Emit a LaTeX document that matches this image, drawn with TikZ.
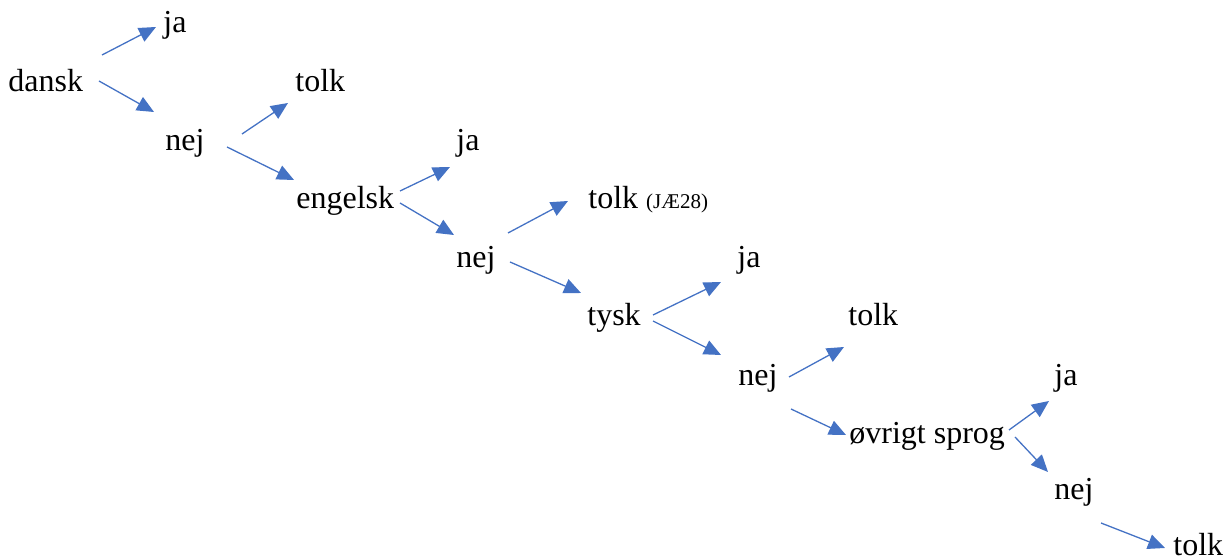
\documentclass[tikz,border=0pt]{standalone}
\usepackage{fontspec}
\setmainfont{Liberation Serif}
\usepackage{xcolor}
\usetikzlibrary{arrows.meta}
\definecolor{officeblue}{HTML}{4472C4}

\begin{document}
\begin{tikzpicture}[x=0.5pt,y=-0.5pt,
		word/.style={
			anchor=base west,
			inner sep=0pt,
			font=\fontsize{16}{19}\selectfont,
		},
		branch/.style={
			draw=officeblue,
			line width=0.65pt,
			-{Triangle[length=8.5pt,width=7.5pt]},
		}]
		\useasboundingbox (0,0) rectangle (1223,560);
		
		\node[word] (dansk) at (8,92) {dansk};
		\node[word] (ja1) at (163,33) {ja};
		\node[word] (nej1) at (165,151) {nej};
		\node[word] (tolk1) at (295,92) {tolk};
		\node[word] (engelsk) at (296,209) {engelsk};
		\node[word] (ja2) at (456,151) {ja};
		\node[word] (nej2) at (456,268) {nej};
		\node[word] (tolk2) at (588,209) {tolk {\fontsize{10.5}{12}\selectfont (JÆ28)}};
		\node[word] (tysk) at (587,326) {tysk};
		\node[word] (ja3) at (737,268) {ja};
		\node[word] (nej3) at (738,386) {nej};
		\node[word] (tolk3) at (848,326) {tolk};
		\node[word] (oevrigt) at (849,444) {øvrigt sprog};
		\node[word] (ja4) at (1054,386) {ja};
		\node[word] (nej4) at (1054,500) {nej};
		\node[word] (tolk4) at (1173,556) {tolk};
		
		% dansk
		\draw[branch] ([shift={(94,-37)}]dansk.base west) -- ([shift={(-7,-6)}]ja1.base west);
		\draw[branch] ([shift={(91,-11)}]dansk.base west) -- ([shift={(-11,-39)}]nej1.base west);
		% engelsk
		\draw[branch] ([shift={(77,-17)}]nej1.base west) -- ([shift={(-7,11)}]tolk1.base west);
		\draw[branch] ([shift={(62,-4)}]nej1.base west) -- ([shift={(-2,-29)}]engelsk.base west);
		\draw[branch] ([shift={(104,-18)}]engelsk.base west) -- ([shift={(-6,16)}]ja2.base west);
		\draw[branch] ([shift={(104,-6)}]engelsk.base west) -- ([shift={(-2,-33)}]nej2.base west);
		% tysk
		\draw[branch] ([shift={(52,-35)}]nej2.base west) -- ([shift={(-20,-8)}]tolk2.base west);
		\draw[branch] ([shift={(54,-6)}]nej2.base west) -- ([shift={(-6,-33)}]tysk.base west);
		\draw[branch] ([shift={(66,-11)}]tysk.base west) -- ([shift={(-16,14)}]ja3.base west);
		\draw[branch] ([shift={(66,-5)}]tysk.base west) -- ([shift={(-17,-31)}]nej3.base west);
		% oevrigt sprog
		\draw[branch] ([shift={(51,-9)}]nej3.base west) -- ([shift={(-4,21)}]tolk3.base west);
		\draw[branch] ([shift={(53,23)}]nej3.base west) -- ([shift={(-3,-9)}]oevrigt.base west);
		\draw[branch] ([shift={(160,-14)}]oevrigt.base west) -- ([shift={(-5,15)}]ja4.base west);
		\draw[branch] ([shift={(166,-7)}]oevrigt.base west) -- ([shift={(-6,-28)}]nej4.base west);
		\draw[branch] ([shift={(47,23)}]nej4.base west) -- ([shift={(-8,-8)}]tolk4.base west);
	\end{tikzpicture}
\end{document}
